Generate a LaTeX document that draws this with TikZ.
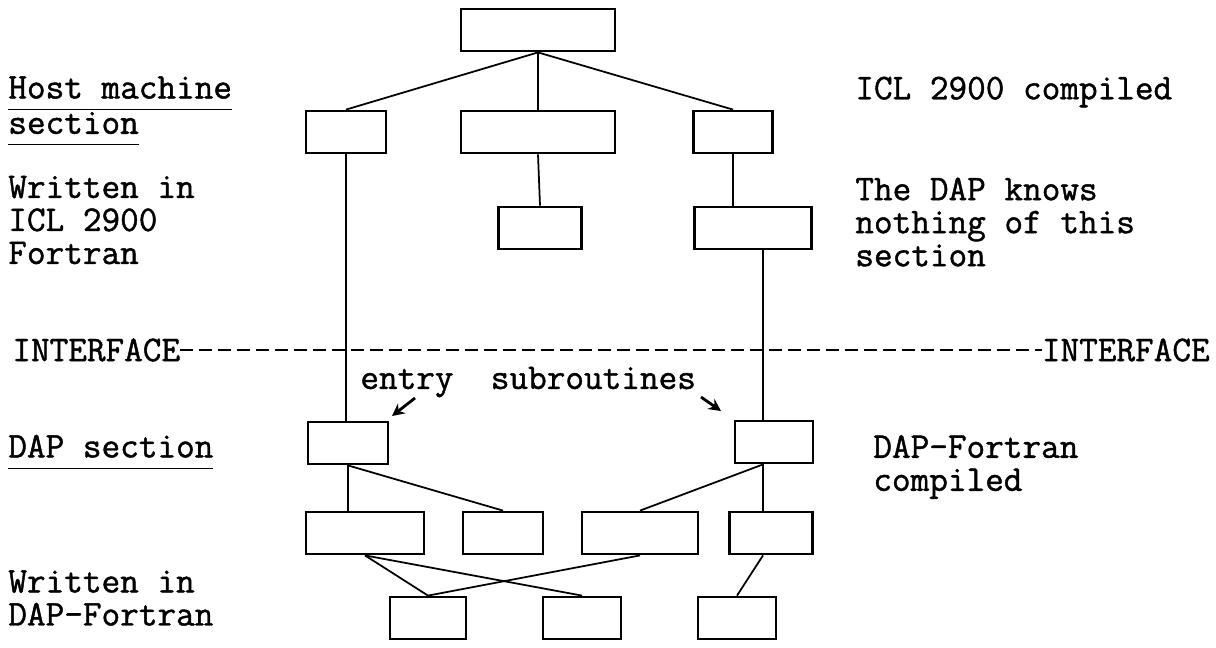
\documentclass[tikz,border=0pt]{standalone}
\usepackage{fontspec}
\setmonofont{Latin Modern Mono}[FakeBold=1.2]
\usepackage{tikz}
\usetikzlibrary{arrows.meta}

\newcommand{\lblfont}{\ttfamily\fontsize{20.6}{18.8}\selectfont}
\newcommand{\ulsec}[1]{\underline{#1\vphantom{g}}}

\begin{document}
\begin{tikzpicture}[x=0.02cm, y=-0.02cm,
    blk/.style={draw, line width=1.6pt, minimum height=0.84cm, inner sep=0pt},
    lbl/.style={anchor=west, align=left, inner sep=0pt, font=\lblfont},
    link/.style={line width=1pt}]

    \useasboundingbox (0,0) rectangle (1216,647);

    % Host machine section boxes
    \node[blk, minimum width=3.08cm] (top) at (538,30) {};
    \node[blk, minimum width=1.6cm]  (hA) at (346,132) {};
    \node[blk, minimum width=3.08cm] (hB) at (538,132) {};
    \node[blk, minimum width=1.58cm] (hC) at (733,132) {};
    \node[blk, minimum width=1.66cm] (hD) at (540,228) {};
    \node[blk, minimum width=2.34cm] (hE) at (753,228) {};

    % DAP section boxes
    \node[blk, minimum width=1.6cm]  (dA) at (348,443) {};
    \node[blk, minimum width=1.56cm] (dB) at (774,442) {};
    \node[blk, minimum width=2.36cm] (dC) at (365,533) {};
    \node[blk, minimum width=1.6cm]  (dD) at (503,533) {};
    \node[blk, minimum width=2.32cm] (dE) at (640,533) {};
    \node[blk, minimum width=1.66cm] (dF) at (771,533) {};
    \node[blk, minimum width=1.52cm] (dG) at (428,618) {};
    \node[blk, minimum width=1.56cm] (dH) at (582,618) {};
    \node[blk, minimum width=1.56cm] (dI) at (737,618) {};

    \coordinate (rtrunk) at (763,0);

    % Connectors
    \draw[link] (top.south) -- (hA.north);
    \draw[link] (top.south) -- (hB.north);
    \draw[link] (top.south) -- (hC.north);
    \draw[link] (hB.south) -- (hD.north);
    \draw[link] (hC.south) -- (hC.south |- hE.north);
    \draw[link] (hA.south) -- (hA.south |- dA.north);
    \draw[link] (hE.south -| rtrunk) -- (dB.north -| rtrunk);

    \draw[link] (dA.south) -- (dA.south |- dC.north);
    \draw[link] (dA.south) -- (dD.north);
    \draw[link] (dB.south -| rtrunk) -- (dE.north);
    \draw[link] (dB.south -| rtrunk) -- (dF.north -| rtrunk);
    \draw[link] (dC.south) -- (dG.north);
    \draw[link] (dC.south) -- (dH.north);
    \draw[link] (dE.south) -- (dG.north);
    \draw[link] (dF.south -| rtrunk) -- (dI.north);

    % Interface line
    \node[lbl] (ifL) at (12,350) {INTERFACE};
    \node[lbl, anchor=east] (ifR) at (1210,350) {INTERFACE};
    \draw[line width=1.6pt, dash pattern=on 0.26cm off 0.12cm] (ifL.east) -- (ifR.west);

    % Left labels
    \node[lbl] (host) at (8,111) {\ulsec{Host machine}\\\ulsec{section}};
    \node[lbl] (hostlang) at (8,220) {Written in\\ICL 2900\\Fortran};
    \node[lbl] (dapsec) at (8,452) {\ulsec{DAP section}};
    \node[lbl] (daplang) at (8,598) {Written in\\DAP-Fortran};

    % Right labels
    \node[lbl] (iclcomp) at (855,92) {ICL 2900 compiled};
    \node[lbl] (knows) at (855,222) {The DAP knows\\nothing of this\\section};
    \node[lbl] (dapcomp) at (873,467) {DAP-Fortran\\compiled};

    % Entry subroutines
    \node[lbl] (entry) at (360,382) {entry\ \ subroutines};
    \coordinate (entrytail) at (415,398);
    \coordinate (entrytip) at (392,416);
    \coordinate (subtail) at (701,397);
    \coordinate (subtip) at (721,411);
    \draw[line width=1.6pt, -{Stealth[length=7pt, width=7pt]}] (entrytail) -- (entrytip);
    \draw[line width=1.6pt, -{Stealth[length=7pt, width=7pt]}] (subtail) -- (subtip);

\end{tikzpicture}
\end{document}
